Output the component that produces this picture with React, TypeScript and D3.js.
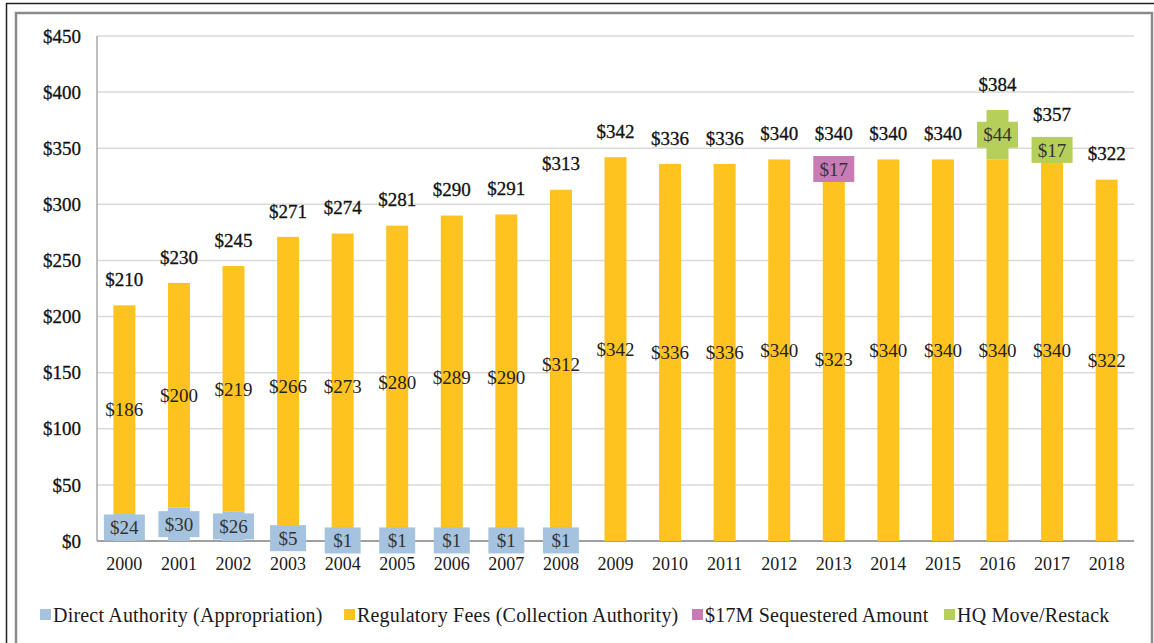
import * as d3 from "d3";

const years = ["2000", "2001", "2002", "2003", "2004", "2005", "2006", "2007", "2008", "2009",
  "2010", "2011", "2012", "2013", "2014", "2015", "2016", "2017", "2018"];
const directAuthority = [24, 30, 26, 5, 1, 1, 1, 1, 1, 0, 0, 0, 0, 0, 0, 0, 0, 0, 0];
const regulatoryFees = [186, 200, 219, 266, 273, 280, 289, 290, 312, 342, 336, 336, 340, 323, 340, 340, 340, 340, 322];
const sequestered = [0, 0, 0, 0, 0, 0, 0, 0, 0, 0, 0, 0, 0, 17, 0, 0, 0, 0, 0];
const hqMove = [0, 0, 0, 0, 0, 0, 0, 0, 0, 0, 0, 0, 0, 0, 0, 0, 44, 17, 0];
const yTicks = [0, 50, 100, 150, 200, 250, 300, 350, 400, 450];

const seriesNames = [
  "Direct Authority (Appropriation)",
  "Regulatory Fees (Collection Authority)",
  "$17M Sequestered Amount",
  "HQ Move/Restack",
];
const seriesColors = ["#a5c3de", "#ffc31f", "#c97bb6", "#b5cf5a"];
const legendX = [40, 344, 692, 944];

const W = 1154, H = 643;
const FONT = "Liberation Serif, Times New Roman, serif";

export default function App() {
  const rows = years.map((yr, i) => ({
    year: yr,
    k0: directAuthority[i],
    k1: regulatoryFees[i],
    k2: sequestered[i],
    k3: hqMove[i],
  }));
  const keys = ["k0", "k1", "k2", "k3"];
  const stacked = d3.stack<any>().keys(keys)(rows);
  const totals = rows.map((r) => r.k0 + r.k1 + r.k2 + r.k3);

  const x = d3.scaleBand().domain(years).range([97, 1134]).paddingInner(0.597).paddingOuter(0.3);
  const y = d3.scaleLinear().domain([0, 450]).range([541, 36]);
  const bw = x.bandwidth();

  return (
    <svg width={W} height={H} style={{ position: "absolute", left: 0, top: 0, background: "#fff" }}
      fontFamily={FONT}>
      <rect x={0} y={0} width={W} height={H} fill="#fff" />
      {/* frame */}
      <rect x={6.5} y={3.5} width={1300} height={800} fill="none" stroke="#222" strokeWidth={1.5} />
      <rect x={16} y={13} width={1136} height={800} fill="none" stroke="#8a8a8a" strokeWidth={2.5} />

      {/* gridlines */}
      {yTicks.map((t) => (
        <line key={t} x1={97} x2={1134} y1={y(t)} y2={y(t)}
          stroke={t === 0 ? "#a0a0a0" : "#d9d9d9"} strokeWidth={t === 0 ? 2 : 1.5} />
      ))}
      <line x1={97} x2={97} y1={y(450)} y2={y(0)} stroke="#a8a8a8" strokeWidth={1.5} />

      {/* y tick labels */}
      {yTicks.map((t) => (
        <text key={t} x={81} y={y(t)} dy="0.35em" textAnchor="end" fontSize={19}
          fill="#111" stroke="#111" strokeWidth={0.3} fontFamily={FONT}>${t}</text>
      ))}

      {/* x tick labels */}
      {years.map((yr) => (
        <text key={yr} x={(x(yr) ?? 0) + bw / 2} y={564} dy="0.35em" textAnchor="middle"
          fontSize={18} fill="#1a1a1a" fontFamily={FONT}>{yr}</text>
      ))}

      {/* bars */}
      {stacked.map((s, si) => (
        <g key={s.key} fill={seriesColors[si]}>
          {s.map((d, i) => d[1] - d[0] > 0 ? (
            <rect key={i} x={x(years[i])} y={y(d[1])} width={bw} height={y(d[0]) - y(d[1])} />
          ) : null)}
        </g>
      ))}

      {/* segment labels */}
      {stacked.map((s, si) => (
        <g key={s.key}>
          {s.map((d, i) => {
            const v = d[1] - d[0];
            if (v <= 0) return null;
            const cx = (x(years[i]) ?? 0) + bw / 2;
            const cy = y((d[0] + d[1]) / 2);
            const label = "$" + v;
            if (si === 1) {
              return (
                <text key={i} x={cx} y={cy} dy="0.35em" textAnchor="middle" fontSize={19}
                  fill="#222" fontFamily={FONT}>{label}</text>
              );
            }
            const boxW = 26 + 5 * label.length;
            return (
              <g key={i}>
                <rect x={cx - boxW / 2} y={cy - 13} width={boxW} height={26} fill={seriesColors[si]} />
                <text x={cx} y={cy} dy="0.35em" textAnchor="middle" fontSize={19}
                  fill="#333" fontFamily={FONT}>{label}</text>
              </g>
            );
          })}
        </g>
      ))}

      {/* totals */}
      {totals.map((t, i) => (
        <text key={i} x={(x(years[i]) ?? 0) + bw / 2} y={y(t) - 26} dy="0.35em" textAnchor="middle"
          fontSize={19} fill="#111" stroke="#111" strokeWidth={0.3} fontFamily={FONT}>${t}</text>
      ))}

      {/* legend */}
      {seriesNames.map((n, i) => (
        <g key={n}>
          <rect x={legendX[i]} y={609} width={11} height={11} fill={seriesColors[i]} />
          <text x={legendX[i] + 13} y={615} dy="0.35em" fontSize={20} letterSpacing={0.2}
            fill="#1a1a1a" fontFamily={FONT}>{n}</text>
        </g>
      ))}
    </svg>
  );
}
